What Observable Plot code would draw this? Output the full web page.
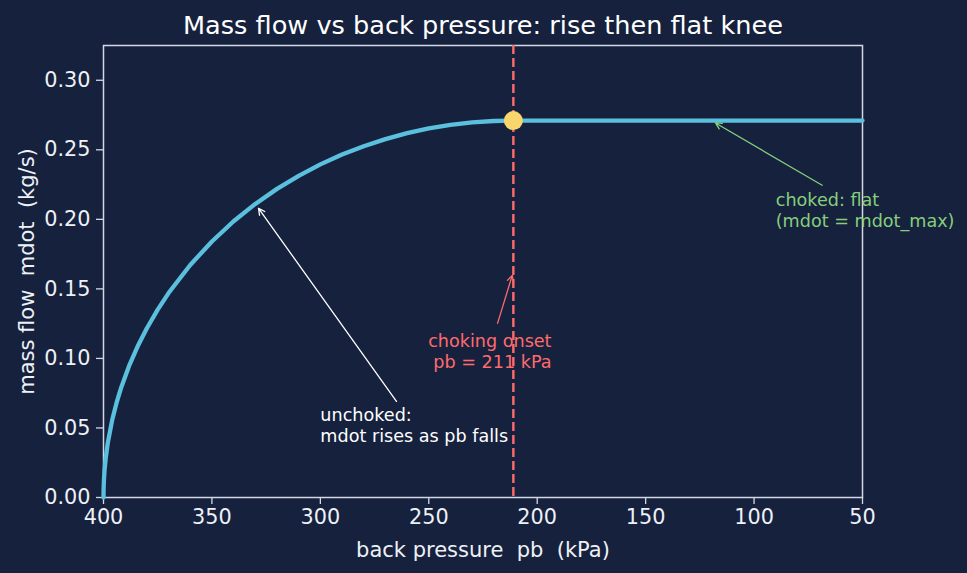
<!DOCTYPE html>
<html>
<head>
<meta charset="utf-8">
<script src="https://cdn.jsdelivr.net/npm/d3@7"></script>
<script src="https://cdn.jsdelivr.net/npm/@observablehq/plot@0.6"></script>
<style>
  html, body { margin: 0; padding: 0; background: #16213e; }
  svg text { white-space: pre; }
</style>
</head>
<body>
<div id="chart"></div>
<script>
// Mass flow through a nozzle as the back pressure drops from 400 kPa
const pbCurve = [400, 399.95, 399.8, 399.5, 399, 398, 396, 394, 392, 388, 384, 380, 375, 370, 360, 350, 340, 330, 320, 310, 300, 290, 280, 270, 260, 250, 240, 230, 220, 211, 50];
const mdotCurve = [0, 0.0063, 0.0125, 0.0198, 0.0279, 0.0395, 0.0557, 0.0680, 0.0783, 0.0954, 0.1095, 0.1217, 0.1351, 0.1470, 0.1672, 0.1841, 0.1986, 0.2111, 0.2219, 0.2313, 0.2395, 0.2466, 0.2526, 0.2577, 0.2620, 0.2654, 0.2679, 0.2697, 0.2707, 0.271, 0.271];

// Choking point
const chokePb = 211;
const mdotMax = 0.271;

// Tick values
const xTicks = [400, 350, 300, 250, 200, 150, 100, 50];
const yTicks = [0, 0.05, 0.10, 0.15, 0.20, 0.25, 0.30];

// Text
const titleText = "Mass flow vs back pressure: rise then flat knee";
const xLabel = "back pressure  pb  (kPa)";
const yLabel = "mass flow  mdot  (kg/s)";

// Annotations: label text, label anchor point, arrow tail and head
const noteText = ["unchoked:\nmdot rises as pb falls", "choking onset\npb = 211 kPa", "choked: flat\n(mdot = mdot_max)"];
const noteX = [300, 193.4, 90];
const noteY = [0.052, 0.1058, 0.2066];
const noteAnchor = ["start", "end", "start"];
const noteColor = ["#ffffff", "#ff6b6b", "#85cf7b"];
const arrowFromX = [264.9, 218.3, 68.6];
const arrowFromY = [0.0691, 0.1252, 0.2245];
const arrowToX = [328.5, 211.5, 117.8];
const arrowToY = [0.2079, 0.1597, 0.2693];

const curve = pbCurve.map((pb, i) => ({pb, mdot: mdotCurve[i]}));
const notes = noteText.map((text, i) => ({
  text, x: noteX[i], y: noteY[i], anchor: noteAnchor[i], color: noteColor[i],
  x1: arrowFromX[i], y1: arrowFromY[i], x2: arrowToX[i], y2: arrowToY[i]
}));

const bg = "#16213e";
const ink = "#eef1f6";
const frameColor = "#d3d9e4";
const font = "DejaVu Sans, Liberation Sans, sans-serif";

const chart = Plot.plot({
  width: 967,
  height: 573,
  marginLeft: 103,
  marginRight: 105,
  marginTop: 45,
  marginBottom: 76,
  style: {background: bg, color: ink, fontFamily: font, fontSize: "20.8px", overflow: "visible"},
  x: {domain: [400, 50]},
  y: {domain: [0, 0.325]},
  marks: [
    Plot.axisX({ticks: xTicks, tickFormat: d3.format("d"), tickSize: 7, tickPadding: 5, label: null, stroke: frameColor, strokeWidth: 1.3, fill: ink, fontSize: 20.8}),
    Plot.axisY({ticks: yTicks, tickFormat: d3.format(".2f"), tickSize: 7, tickPadding: 6, label: null, stroke: frameColor, strokeWidth: 1.3, fill: ink, fontSize: 20.8}),
    Plot.frame({stroke: frameColor, strokeWidth: 1.5}),
    Plot.ruleX([chokePb], {stroke: "#ff6b6b", strokeWidth: 2.4, strokeDasharray: "9,4"}),
    Plot.line(curve, {x: "pb", y: "mdot", stroke: "#5bc0de", strokeWidth: 4.3, strokeLinejoin: "round"}),
    Plot.dot([{pb: chokePb, mdot: mdotMax}], {x: "pb", y: "mdot", r: 9.5, fill: "#f9d56e", stroke: "none"}),
    ...notes.map(n => Plot.arrow([n], {x1: "x1", y1: "y1", x2: "x2", y2: "y2", stroke: n.color, strokeWidth: 1.3, headLength: 8, headAngle: 55})),
    ...notes.map(n => Plot.text([n], {x: "x", y: "y", text: "text", textAnchor: n.anchor, lineAnchor: "middle", lineHeight: 1.2, fill: n.color, fontSize: 17.6})),
    Plot.text([titleText], {frameAnchor: "top", dy: -20, lineAnchor: "middle", fontSize: 25.6, fill: "#ffffff"}),
    Plot.text([xLabel], {frameAnchor: "bottom", dy: 52.3, lineAnchor: "middle", fontSize: 21, fill: ink}),
    Plot.text([yLabel], {frameAnchor: "left", dx: -76.7, rotate: -90, textAnchor: "middle", lineAnchor: "middle", fontSize: 21, fill: ink})
  ]
});

document.getElementById("chart").appendChild(chart);
</script>
</body>
</html>
